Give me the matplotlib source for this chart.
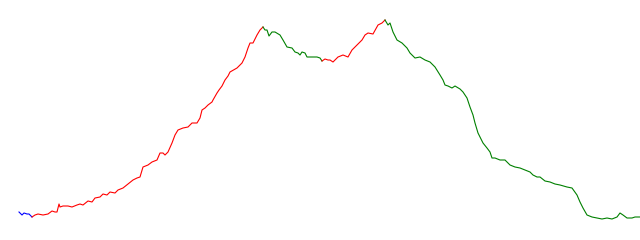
import matplotlib
matplotlib.use("Agg")
import matplotlib.pyplot as plt
import numpy as np

steps = [19, 22, 24, 27, 29, 32, 35, 38, 43, 48, 52, 55, 57, 59, 60, 63, 68, 72, 77, 80,
         83, 88, 92, 95, 100, 103, 107, 110, 115, 118, 123, 128, 133, 137, 140, 143, 148,
         152, 157, 160, 163, 165, 168, 172, 175, 178, 183, 188, 192, 197, 200, 202, 205,
         208, 212, 213, 217, 219, 222, 225, 228, 230, 237, 242, 245, 248, 250, 253, 257,
         260, 263, 265, 267, 269, 272, 275, 280, 283, 287, 292, 295, 298, 300, 302, 305,
         307, 312, 317, 320, 322, 325, 328, 330, 333, 338, 343, 348, 352, 357, 362, 365,
         368, 373, 378, 382, 385, 388, 390, 393, 397, 402, 407, 410, 415, 420, 425, 430,
         435, 440, 443, 445, 448, 452, 455, 460, 463, 467, 470, 473, 475, 478, 483, 487,
         490, 492, 495, 500, 505, 510, 515, 520, 525, 530, 533, 537, 540, 545, 550, 555,
         560, 567, 572, 577, 580, 583, 587, 592, 597, 602, 607, 612, 617, 620, 623, 627,
         632, 635, 640]

values = [28, 25, 27, 26, 26, 23, 25, 26, 25, 26, 29, 28, 28, 36, 33, 34, 34, 33, 35, 36,
          35, 39, 38, 42, 43, 46, 45, 48, 47, 50, 52, 56, 60, 62, 63, 73, 75,
          78, 80, 87, 87, 85, 88, 97, 105, 110, 112, 113, 117, 117, 122, 130, 132,
          135, 138, 140, 147, 150, 154, 160, 164, 168, 172, 177, 183, 192, 197, 197, 205,
          210, 213, 210, 210, 204, 208, 208, 205, 200, 193, 192, 188, 187, 185, 188, 187,
          183, 183, 183, 182, 179, 181, 180, 180, 178, 183, 185, 183, 190, 195, 200, 205,
          207, 206, 215, 217, 220, 215, 217, 208, 200, 197, 192, 187, 182, 183, 180, 178,
          173, 165, 160, 155, 154, 152, 154, 151, 148, 142, 133, 125, 117, 107, 97, 92,
          88, 82, 82, 80, 80, 75, 73, 72, 70, 68, 65, 63, 63, 59, 58, 56,
          55, 53, 52, 45, 38, 32, 25, 23, 22, 21, 22, 21, 23, 27, 25, 22,
          22, 23, 23]

# segment boundaries (step where colour changes) and colours
breaks = [32, 263, 322, 385]
seg_colors = ["blue", "red", "green", "red", "green"]

assert len(steps) == len(values)

fig = plt.figure(figsize=(6.4, 2.4), dpi=100)
ax = fig.add_axes([0, 0, 1, 1])
steps_a = np.array(steps)
values_a = np.array(values)
bounds = [steps[0]] + breaks + [steps[-1]]
for i, c in enumerate(seg_colors):
    m = (steps_a >= bounds[i]) & (steps_a <= bounds[i + 1])
    ax.plot(steps_a[m], values_a[m], color=c, linewidth=0.8)
ax.set_xlim(0, 640)
ax.set_ylim(0, 240)
ax.axis("off")
fig.savefig("out.png", dpi=100)
